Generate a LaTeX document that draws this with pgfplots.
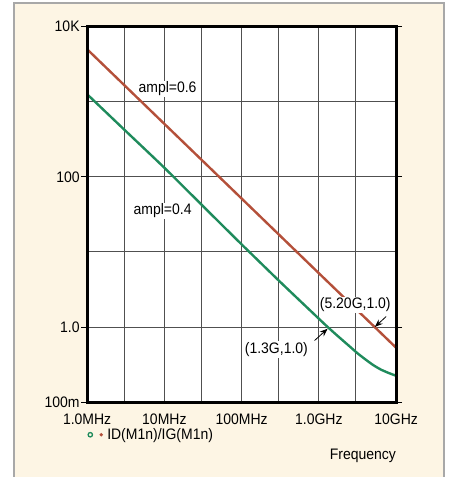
\documentclass[border=0pt]{standalone}
\usepackage{fontspec}
\setmainfont{Liberation Sans}[FakeStretch=0.92]
\usepackage{pgfplots}
\pgfplotsset{compat=1.18}
\usetikzlibrary{arrows.meta}
\definecolor{cream}{HTML}{FDF5E4}
\definecolor{bordergray}{HTML}{A8A8A8}
\definecolor{curvered}{HTML}{B4503A}
\definecolor{curvegreen}{HTML}{1F8B5C}
\definecolor{gridgray}{HTML}{505050}
\newcommand{\bigfont}{\fontsize{15.3}{18}\selectfont}
\begin{document}
\begin{tikzpicture}[font=\bigfont]
\fill[white] (0bp,0bp) rectangle (450bp,478bp);
\fill[cream] (14bp,0bp) rectangle (445bp,475bp);
\draw[bordergray, line width=2.2bp] (14bp,0bp) -- (14bp,475bp) -- (445bp,475bp) -- (445bp,0bp);
\begin{axis}[
  at={(87.3bp,75bp)}, anchor=south west,
  scale only axis, width=309.7bp, height=376.3bp,
  xmode=log, ymode=log,
  xmin=1e6, xmax=1e10, ymin=0.1, ymax=10000,
  font=\bigfont,
  tick label style={font=\bigfont},
  label style={font=\bigfont},
  axis background/.style={fill=white},
  axis line style={line width=3bp, black},
  xtick={1e6,3e6,1e7,3e7,1e8,3e8,1e9,3e9,1e10},
  xticklabels={1.0MHz,,10MHz,,100MHz,,1.0GHz,,10GHz},
  ytick={0.1,1,10,100,1000,10000},
  yticklabels={100m,1.0,,100,,10K},
  minor tick num=0,
  grid=major,
  major grid style={gridgray, line width=0.9bp},
  tick style={draw=none},
  yticklabel style={xshift=-4bp},
  xticklabel shift=8.5bp,
  extra y ticks={0.1,1,100,10000},
  extra y tick labels={},
  extra y tick style={grid=none, tick align=outside, major tick length=6bp, tick style={draw=black, line width=0.8bp}},
  xlabel={Frequency},
  xlabel style={at={(axis description cs:1,-0.142)}, anchor=east, inner sep=0pt},
  legend style={draw=none, fill=none, at={(axis description cs:0,-0.087)}, anchor=west, inner sep=0pt, nodes={inner sep=1bp}, font=\bigfont},
  legend cell align=left,
  clip=true,
]
\addlegendimage{legend image code/.code={
  \draw[curvegreen, line width=1.3bp, fill=none] (3bp,0bp) circle (2.2bp);
  \fill[curvered, draw=none] (14bp,0bp) circle (1.9bp);
  \path[draw=none, fill=none] (0bp,-2bp) rectangle (19bp,2bp);}}
\addlegendentry{ID(M1n)/IG(M1n)}
\addplot[curvered, line width=2.4bp, forget plot] coordinates {
(1e6,5000) (1e7,507) (1e8,51.4) (1e9,5.2) (1e10,0.53)};
\addplot[curvegreen, line width=2.4bp, smooth, tension=0.4, forget plot] coordinates {
(1e6,1259) (3.162e6,407) (1e7,132) (3.162e7,40.7) (1e8,12.6) (3.162e8,3.98)
(1e9,1.29) (1.3e9,1.0) (1.778e9,0.75) (2.512e9,0.55) (3.162e9,0.447)
(3.981e9,0.372) (5.012e9,0.313) (6.31e9,0.272) (7.943e9,0.245) (1e10,0.224)};
\draw[black, line width=3bp] (rel axis cs:0,0) rectangle (rel axis cs:1,1);
\node[fill=white, inner sep=1bp] at (axis cs:1.1e7,1483) {ampl=0.6};
\node[fill=white, inner sep=1bp] at (axis cs:9.5e6,35.4) {ampl=0.4};
\node[fill=white, inner sep=1bp] at (axis cs:2.96e9,1.96) {(5.20G,1.0)};
\node[fill=white, inner sep=1bp] at (axis cs:2.82e8,0.502) {(1.3G,1.0)};
\draw[-{Stealth[length=8bp,width=6bp]}, line width=0.8bp] (axis cs:7.45e9,1.38) -- (axis cs:5.3e9,1.0);
\draw[-{Stealth[length=8bp,width=6bp]}, line width=0.8bp] (axis cs:8.8e8,0.66) -- (axis cs:1.3e9,0.95);
\end{axis}
\end{tikzpicture}
\end{document}
